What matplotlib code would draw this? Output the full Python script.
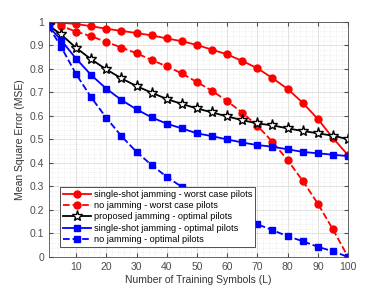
import matplotlib.pyplot as plt
from matplotlib.ticker import MultipleLocator

L = [1, 5, 10, 15, 20, 25, 30, 35, 40, 45, 50, 55, 60, 65, 70, 75, 80, 85, 90, 95, 100]

single_worst = [1.0, 0.997, 0.991, 0.982, 0.971, 0.962, 0.953, 0.943, 0.930, 0.918, 0.902,
                0.882, 0.862, 0.834, 0.803, 0.761, 0.715, 0.656, 0.587, 0.506, 0.433]
nojam_worst = [1.0, 0.983, 0.959, 0.939, 0.915, 0.891, 0.867, 0.838, 0.811, 0.781, 0.744,
               0.707, 0.663, 0.614, 0.558, 0.490, 0.412, 0.324, 0.227, 0.117, 0.0]
proposed_opt = [0.985, 0.947, 0.890, 0.841, 0.798, 0.760, 0.727, 0.699, 0.672, 0.651, 0.632,
                0.615, 0.598, 0.582, 0.568, 0.560, 0.547, 0.536, 0.526, 0.516, 0.501]
single_opt = [0.98, 0.923, 0.844, 0.774, 0.716, 0.668, 0.628, 0.594, 0.567, 0.547, 0.526,
              0.514, 0.500, 0.487, 0.476, 0.469, 0.458, 0.447, 0.441, 0.435, 0.429]
nojam_opt = [0.98, 0.895, 0.778, 0.679, 0.592, 0.514, 0.447, 0.391, 0.341, 0.298, 0.262,
             0.228, 0.196, 0.166, 0.139, 0.114, 0.088, 0.067, 0.043, 0.024, 0.0]

labels = ['single-shot jamming - worst case pilots',
          'no jamming - worst case pilots',
          'proposed jamming - optimal pilots',
          'single-shot jamming - optimal pilots',
          'no jamming - optimal pilots']

plt.rcParams['font.family'] = ['Liberation Sans', 'DejaVu Sans']
fig = plt.figure(figsize=(3.85, 2.89), dpi=100)
ax = fig.add_axes([0.127, 0.111, 0.777, 0.813])

ax.plot(L, single_worst, '-o', color='red', lw=1.3, ms=5, label=labels[0])
ax.plot(L, nojam_worst, '--o', color='red', lw=1.3, ms=5, label=labels[1])
ax.plot(L, proposed_opt, '-*', color='black', lw=1.3, ms=8, mfc='white', mec='black',
        mew=1.0, label=labels[2])
ax.plot(L, single_opt, '-s', color='blue', lw=1.3, ms=4.5, label=labels[3])
ax.plot(L, nojam_opt, '--s', color='blue', lw=1.3, ms=4.5, label=labels[4])

ax.set_xlim(1, 100)
ax.set_ylim(0, 1)
ax.xaxis.set_major_locator(MultipleLocator(10))
ax.xaxis.set_minor_locator(MultipleLocator(2))
ax.yaxis.set_minor_locator(MultipleLocator(0.02))
ax.set_yticks([0, 0.1, 0.2, 0.3, 0.4, 0.5, 0.6, 0.7, 0.8, 0.9, 1])
ax.set_yticklabels(['0', '0.1', '0.2', '0.3', '0.4', '0.5', '0.6', '0.7', '0.8', '0.9', '1'])
ax.grid(True, which='major', color='#dcdcdc', lw=0.6)
ax.grid(True, which='minor', color='#e4e4e4', lw=0.5, ls=':')
ax.set_axisbelow(True)
ax.tick_params(which='both', direction='in', top=True, right=True, labelsize=7.5,
               colors='#4d4d4d', length=3)
ax.tick_params(which='minor', length=0)
for s in ax.spines.values():
    s.set_color('#4d4d4d')
    s.set_linewidth(0.6)

ax.set_xlabel('Number of Training Symbols (L)', fontsize=7.5, color='#333333', labelpad=2)
ax.set_ylabel('Mean Square Error (MSE)', fontsize=7.5, color='#333333', labelpad=3)

leg = ax.legend(loc='lower left', bbox_to_anchor=(0.037, 0.043), fontsize=6.6,
                handlelength=3.1, handletextpad=0.3, borderpad=0.3, labelspacing=0.25,
                fancybox=False, framealpha=1, edgecolor='#333333', borderaxespad=0)
leg.get_frame().set_linewidth(0.6)

fig.savefig('out.png', dpi=100)
